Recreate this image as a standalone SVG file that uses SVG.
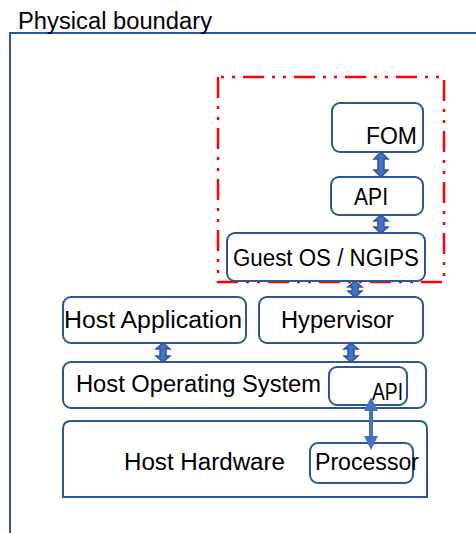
<svg xmlns="http://www.w3.org/2000/svg" width="476" height="533" viewBox="0 0 476 533">
<style>
.box{fill:#fff;stroke:#2F5597;stroke-width:2}
.t{font-family:"Liberation Sans",Arial,sans-serif;font-size:23.5px;fill:#000}
.blk{fill:#4472C4;stroke:#2F5597;stroke-width:1.5;stroke-linejoin:miter}
.thin{stroke:#4472C4;stroke-width:4;fill:none}
</style>
<defs>
<marker id="ah" viewBox="0 0 14 14" refX="2" refY="7" markerWidth="14" markerHeight="14" markerUnits="userSpaceOnUse" orient="auto-start-reverse">
<path d="M0,0 L14,7 L0,14 Z" fill="#4472C4"/>
</marker>
</defs>
<rect width="476" height="533" fill="#fff"/>
<g id="boundary">
<path d="M10,533 V33 H476" fill="none" stroke="#2F5597" stroke-width="2"/>
<text class="t" x="18" y="29" textLength="194" lengthAdjust="spacingAndGlyphs">Physical boundary</text>
</g>
<g id="vm-boundary">
<path d="M218,77 V282 H444 V77 Z" fill="none" stroke="#FF0000" stroke-width="2.5" stroke-dasharray="21 8 3 8 3 8"/>
</g>
<g id="fom">
<rect class="box" x="332" y="103" width="91" height="49" rx="8"/>
<text class="t" x="366" y="144" textLength="51" lengthAdjust="spacingAndGlyphs">FOM</text>
</g>
<g id="api-guest">
<rect class="box" x="331" y="177" width="92" height="38" rx="8"/>
<text class="t" x="354" y="205" textLength="34" lengthAdjust="spacingAndGlyphs">API</text>
</g>
<g id="guest-os">
<rect class="box" x="227" y="233" width="198" height="48" rx="8"/>
<text class="t" x="233" y="266" textLength="186" lengthAdjust="spacingAndGlyphs">Guest OS / NGIPS</text>
</g>
<g id="host-application">
<rect class="box" x="63" y="297" width="183" height="46" rx="8"/>
<text class="t" x="64" y="328" textLength="178" lengthAdjust="spacingAndGlyphs">Host Application</text>
</g>
<g id="hypervisor">
<rect class="box" x="259" y="297" width="164" height="46" rx="8"/>
<text class="t" x="281" y="328" textLength="113" lengthAdjust="spacingAndGlyphs">Hypervisor</text>
</g>
<g id="host-os">
<rect class="box" x="63" y="362" width="363" height="46" rx="8"/>
<text class="t" x="76" y="392" textLength="245" lengthAdjust="spacingAndGlyphs">Host Operating System</text>
</g>
<g id="api-host">
<rect class="box" x="329" y="367" width="78" height="38" rx="8"/>
<text class="t" x="372" y="400" textLength="31" lengthAdjust="spacingAndGlyphs">API</text>
</g>
<g id="host-hardware">
<path class="box" d="M63,497 V429 Q63,421 71,421 H419 Q427,421 427,429 V497 Z"/>
<text class="t" x="124" y="470" textLength="161" lengthAdjust="spacingAndGlyphs">Host Hardware</text>
</g>
<g id="processor">
<rect class="box" x="310" y="443" width="103" height="40" rx="8"/>
<text class="t" x="315" y="470" textLength="104" lengthAdjust="spacingAndGlyphs">Processor</text>
</g>
<g id="connectors">
<path class="blk" d="M381,152 L388,159 L384,159 L384,170 L388,170 L381,177 L374,170 L378,170 L378,159 L374,159 Z"/>
<path class="blk" d="M381,215 L388,221 L384,221 L384,227 L388,227 L381,233 L374,227 L378,227 L378,221 L374,221 Z"/>
<path class="blk" d="M355,281 L362,287 L358,287 L358,291 L362,291 L355,297 L348,291 L352,291 L352,287 L348,287 Z"/>
<path class="blk" d="M163,343 L170,349 L166,349 L166,356 L170,356 L163,362 L156,356 L160,356 L160,349 L156,349 Z"/>
<path class="blk" d="M351,343 L358,349 L354,349 L354,356 L358,356 L351,362 L344,356 L348,356 L348,349 L344,349 Z"/>
<path class="thin" d="M371,409 V438" marker-start="url(#ah)" marker-end="url(#ah)"/>
</g>
</svg>
